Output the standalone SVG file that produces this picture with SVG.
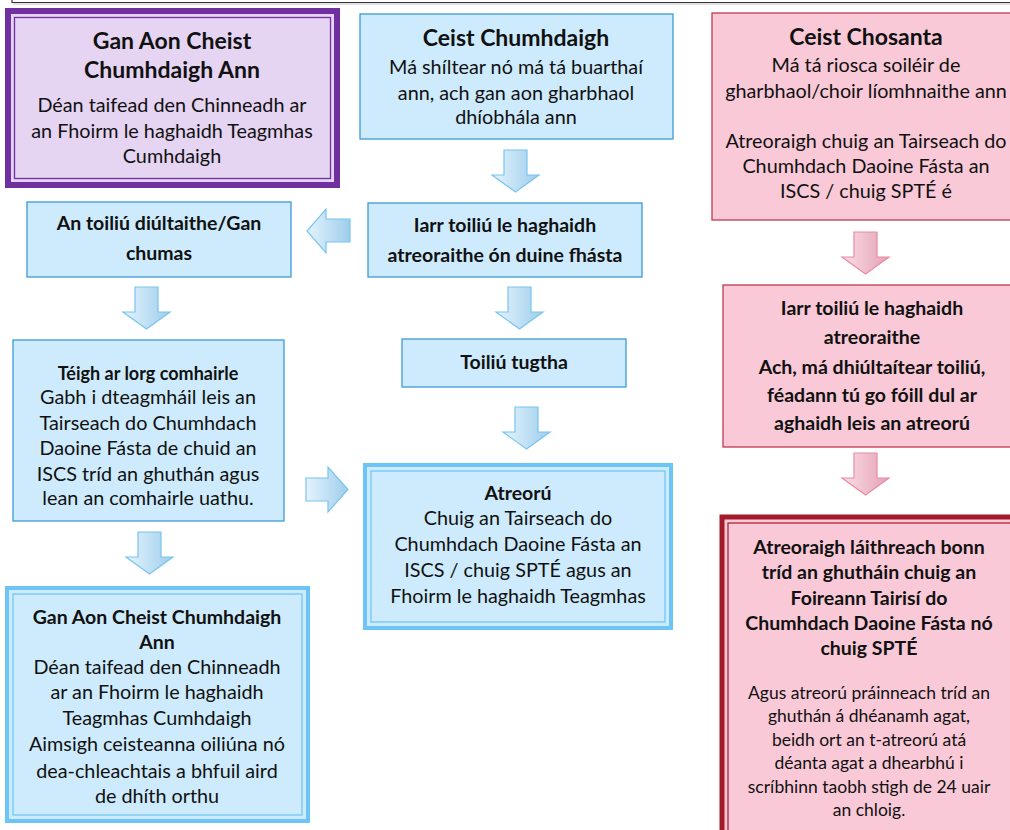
<svg xmlns="http://www.w3.org/2000/svg" width="1010" height="830" viewBox="0 0 1010 830">
<style>
text{font-family:Lato,"Liberation Sans",sans-serif;fill:#111;text-anchor:middle}
.b{font-weight:bold}
.t{font-size:23px;font-weight:bold}
.n{font-size:19.8px}
.s{font-size:19.5px;font-weight:bold}
.sm{font-size:17.5px}
.blue{fill:#CDEBFC;stroke:#3C9BD6;stroke-width:1.3}
.pink{fill:#F9C9D7;stroke:#C0394F;stroke-width:1.3}
.arrB{fill:url(#gB);stroke:#78C4F0;stroke-width:1.2}
.arrP{fill:url(#gP);stroke:#E88CA4;stroke-width:1.2}
</style>
<defs>
<linearGradient id="gB" x1="0" y1="0" x2="1" y2="0">
<stop offset="0" stop-color="#E4F4FD"/><stop offset="1" stop-color="#9ECDEB"/>
</linearGradient>
<linearGradient id="gP" x1="0" y1="0" x2="1" y2="0">
<stop offset="0" stop-color="#FBDDE6"/><stop offset="1" stop-color="#E4A2B5"/>
</linearGradient>
<path id="ad" d="M11,0 H34 V25 H46 L22.5,42 L-1,25 H11 Z"/>
</defs>
<rect width="1010" height="830" fill="#fff"/>
<path d="M12,-2 V2.5 H1012" fill="none" stroke="#333" stroke-width="1.2"/>
<path d="M13,4 H1012" fill="none" stroke="#C8C0CC" stroke-width="1"/>

<g id="connectors">
<use href="#ad" class="arrB" x="493" y="150"/>
<use href="#ad" class="arrB" x="497" y="287"/>
<use href="#ad" class="arrB" x="504" y="407"/>
<use href="#ad" class="arrB" x="124" y="287"/>
<use href="#ad" class="arrB" x="127" y="532"/>
<use href="#ad" class="arrP" x="843" y="232"/>
<use href="#ad" class="arrP" x="843" y="453"/>
<path class="arrB" d="M350,219 V242 H326 V253 L307,231 L326,209 V219 Z"/>
<path class="arrB" d="M306,478 V501 H328 V512 L348,489.5 L328,467 V478 Z"/>
</g>

<g id="n-gan-aon-top">
<rect x="8" y="11" width="329" height="174" fill="#E5D4F2" stroke="#7030A0" stroke-width="6"/>
<rect x="14.5" y="17.5" width="316" height="161" fill="none" stroke="#7030A0" stroke-width="1.3"/>
<text class="t" x="172" y="49">Gan Aon Cheist</text>
<text class="t" x="172" y="78">Chumhdaigh Ann</text>
<text class="n" x="172" y="112">Déan taifead den Chinneadh ar</text>
<text class="n" x="172" y="138">an Fhoirm le haghaidh Teagmhas</text>
<text class="n" x="172" y="163">Cumhdaigh</text>
</g>

<g id="n-ceist-chumhdaigh">
<rect class="blue" x="360" y="14" width="313" height="125"/>
<text class="t" x="516" y="46">Ceist Chumhdaigh</text>
<text class="n" x="516" y="74">Má shíltear nó má tá buarthaí</text>
<text class="n" x="516" y="100">ann, ach gan aon gharbhaol</text>
<text class="n" x="516" y="124">dhíobhála ann</text>
</g>

<g id="n-ceist-chosanta">
<rect class="pink" x="712" y="13" width="320" height="207"/>
<text class="t" x="866" y="45">Ceist Chosanta</text>
<text class="n" x="866" y="72">Má tá riosca soiléir de</text>
<text class="n" x="866" y="98">gharbhaol/choir líomhnaithe ann</text>
<text class="n" x="866" y="148">Atreoraigh chuig an Tairseach do</text>
<text class="n" x="866" y="173">Chumhdach Daoine Fásta an</text>
<text class="n" x="866" y="198">ISCS / chuig SPTÉ é</text>
</g>

<g id="n-diultaithe">
<rect class="blue" x="27" y="202" width="264" height="75"/>
<text class="s" x="159" y="230">An toiliú diúltaithe/Gan</text>
<text class="s" x="159" y="260">chumas</text>
</g>

<g id="n-iarr-toiliu">
<rect class="blue" x="368" y="203" width="274" height="74"/>
<text class="s" x="505" y="232">Iarr toiliú le haghaidh</text>
<text class="s" x="505" y="262">atreoraithe ón duine fhásta</text>
</g>

<g id="n-toiliu-tugtha">
<rect class="blue" x="402" y="339" width="224" height="48"/>
<text class="s" x="514" y="369">Toiliú tugtha</text>
</g>

<g id="n-teigh">
<rect class="blue" x="13" y="340" width="271" height="181"/>
<text class="b" x="148" y="380" style="font-size:18px">Téigh ar lorg comhairle</text>
<text class="n" x="148" y="404">Gabh i dteagmháil leis an</text>
<text class="n" x="148" y="430">Tairseach do Chumhdach</text>
<text class="n" x="148" y="455">Daoine Fásta de chuid an</text>
<text class="n" x="148" y="481">ISCS tríd an ghuthán agus</text>
<text class="n" x="148" y="505">lean an comhairle uathu.</text>
</g>

<g id="n-atreoru">
<rect x="365" y="465" width="306" height="163" fill="#CDEBFC" stroke="#6CC4F7" stroke-width="4"/>
<rect x="371" y="471" width="294" height="151" fill="none" stroke="#6CC4F7" stroke-width="1.2"/>
<text class="s" x="518" y="500">Atreorú</text>
<text class="n" x="518" y="525">Chuig an Tairseach do</text>
<text class="n" x="518" y="551">Chumhdach Daoine Fásta an</text>
<text class="n" x="518" y="577">ISCS / chuig SPTÉ agus an</text>
<text class="n" x="518" y="603">Fhoirm le haghaidh Teagmhas</text>
</g>

<g id="n-iarr-pink">
<rect class="pink" x="723" y="285" width="310" height="162"/>
<text class="s" x="872" y="315">Iarr toiliú le haghaidh</text>
<text class="s" x="872" y="344">atreoraithe</text>
<text class="s" x="872" y="374">Ach, má dhiúltaítear toiliú,</text>
<text class="s" x="872" y="402">féadann tú go fóill dul ar</text>
<text class="s" x="872" y="430">aghaidh leis an atreorú</text>
</g>

<g id="n-lathreach">
<rect x="722" y="517" width="320" height="340" fill="#F9C9D7" stroke="#A31A2B" stroke-width="5"/>
<rect x="728" y="523" width="310" height="330" fill="none" stroke="#A31A2B" stroke-width="1.2"/>
<text class="s" x="869" y="554">Atreoraigh láithreach bonn</text>
<text class="s" x="869" y="579">tríd an ghutháin chuig an</text>
<text class="s" x="869" y="605">Foireann Tairisí do</text>
<text class="s" x="869" y="630">Chumhdach Daoine Fásta nó</text>
<text class="s" x="869" y="655">chuig SPTÉ</text>
<text class="sm" x="869" y="699">Agus atreorú práinneach tríd an</text>
<text class="sm" x="869" y="722">ghuthán á dhéanamh agat,</text>
<text class="sm" x="869" y="746">beidh ort an t-atreorú atá</text>
<text class="sm" x="869" y="769">déanta agat a dhearbhú i</text>
<text class="sm" x="869" y="793">scríbhinn taobh stigh de 24 uair</text>
<text class="sm" x="869" y="816">an chloig.</text>
</g>

<g id="n-gan-aon-bottom">
<rect x="7" y="588" width="301" height="233" fill="#CDEBFC" stroke="#6CC4F7" stroke-width="4"/>
<rect x="13" y="594" width="289" height="221" fill="none" stroke="#6CC4F7" stroke-width="1.2"/>
<text class="s" x="157" y="624">Gan Aon Cheist Chumhdaigh</text>
<text class="s" x="157" y="649">Ann</text>
<text class="n" x="157" y="674">Déan taifead den Chinneadh</text>
<text class="n" x="157" y="699">ar an Fhoirm le haghaidh</text>
<text class="n" x="157" y="725">Teagmhas Cumhdaigh</text>
<text class="n" x="157" y="751">Aimsigh ceisteanna oiliúna nó</text>
<text class="n" x="157" y="778">dea-chleachtais a bhfuil aird</text>
<text class="n" x="157" y="803">de dhíth orthu</text>
</g>
</svg>
